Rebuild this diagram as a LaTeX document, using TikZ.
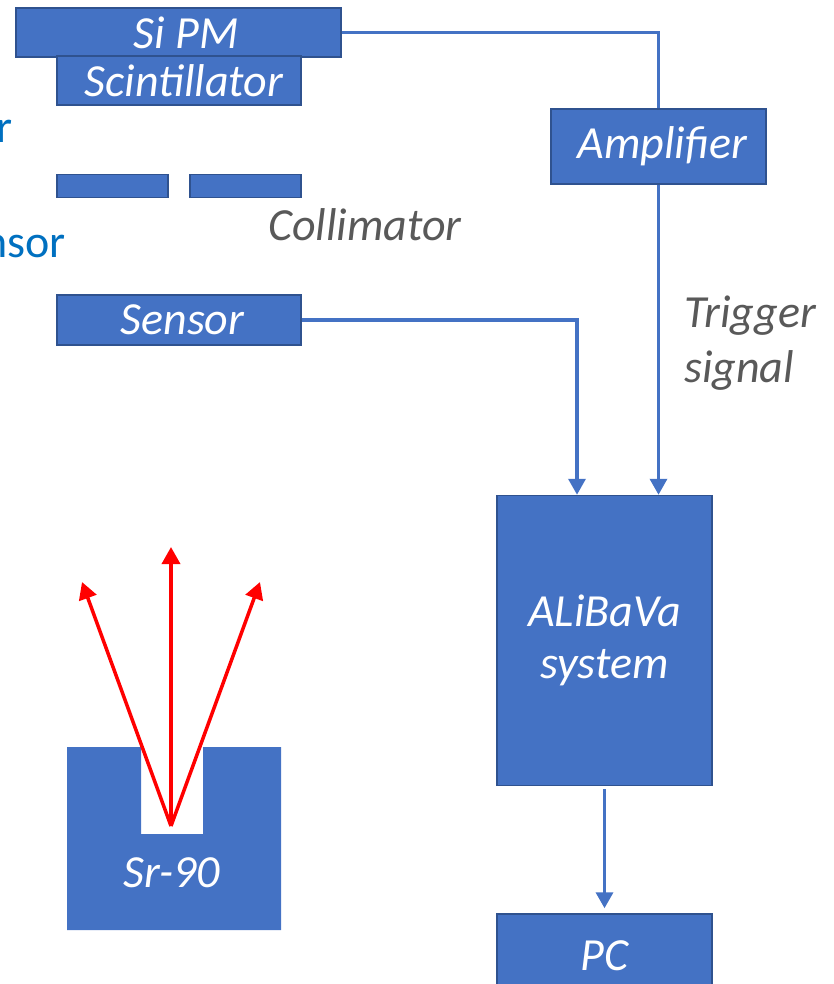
\documentclass[tikz,border=0pt]{standalone}
\usepackage{fontspec}
\setmainfont{Carlito}
\usetikzlibrary{arrows.meta}
\definecolor{boxblue}{RGB}{68,114,196}
\definecolor{boxedge}{RGB}{47,82,143}
\definecolor{txtgray}{RGB}{89,89,89}
\definecolor{lblue}{RGB}{0,112,192}
\definecolor{ray}{RGB}{255,0,0}
\begin{document}
\begin{tikzpicture}[x=1pt,y=-1pt,
  blk/.style={draw=boxedge,line width=1.5pt,fill=boxblue,text=white,inner sep=0pt,
    font=\fontsize{46}{52}\selectfont\itshape,align=center},
  wire/.style={draw=boxblue,line width=3.5pt},
  arr/.style={wire,-{Triangle[width=17pt,length=16pt]}},
  redarr/.style={draw=ray,line width=3.5pt,-{Triangle[width=18pt,length=17pt]}},
  gtxt/.style={text=txtgray,font=\fontsize{46}{55}\selectfont\itshape,inner sep=0pt},
  btxt/.style={text=lblue,font=\fontsize{46}{52}\selectfont,inner sep=0pt}]
\useasboundingbox (0,0) rectangle (833,984);
\begin{scope}
\clip (0,0) rectangle (833,984);
% left cut-off labels
\node[btxt,anchor=base east] (lr) at (13,143) {r};
\node[btxt,anchor=base east] (lnsor) at (66,258) {nsor};
% detector stack
\node[blk,minimum width=325pt,minimum height=49pt] (sipm) at (178.5,32.5) {\hspace{15pt}Si PM};
\node[blk,minimum width=244pt,minimum height=49pt] (scint) at (179,80.5) {\hspace{10pt}Scintillator};
\node[blk,minimum width=111pt,minimum height=23pt] (colL) at (112.5,186) {};
\node[blk,minimum width=111pt,minimum height=23pt] (colR) at (245.5,186) {};
\node[gtxt] (colt) at (365,225) {Collimator};
\node[blk,minimum width=244pt,minimum height=50pt] (sensor) at (179,320) {\hspace{7pt}Sensor};
% electronics
\node[blk,minimum width=215pt,minimum height=75pt] (amp) at (658.5,146.5) {\hspace{8pt}Amplifier};
\node[blk,minimum width=215pt,minimum height=290pt] (ali) at (604.5,640.5) {ALiBaVa\\system};
\node[blk,minimum width=215pt,minimum height=90pt] (pc) at (604.5,959) {};
\node[text=white,font=\fontsize{46}{52}\selectfont\itshape,inner sep=0pt] (pct) at (604.5,956) {PC};
\node[gtxt,align=left,anchor=west] (trig) at (684,343) {Trigger\\signal};
% connectors
\draw[wire] (sipm.east) -| (amp.north);
\draw[arr] (amp.south) -- (amp.south |- ali.north);
\draw[arr] (sensor.east) -| ([xshift=-27.5pt]ali.north);
\draw[arr,shorten <=3pt,shorten >=5pt] (ali.south) -- (pc.north);
% source
\fill[boxblue] (67,747) -- (141,747) -- (141,834) -- (203,834) -- (203,747) -- (281,747) -- (281,930) -- (67,930) -- cycle;
\node[text=white,font=\fontsize{46}{52}\selectfont\itshape,inner sep=0pt] (sr) at (172,873) {Sr-90};
\coordinate (src) at (171,826);
\coordinate (tipM) at (171,547);
\coordinate (tipL) at (82,582);
\coordinate (tipR) at (260,582);
\draw[redarr] (src) -- (tipM);
\draw[redarr] (src) -- (tipL);
\draw[redarr] (src) -- (tipR);
\end{scope}
\end{tikzpicture}
\end{document}
